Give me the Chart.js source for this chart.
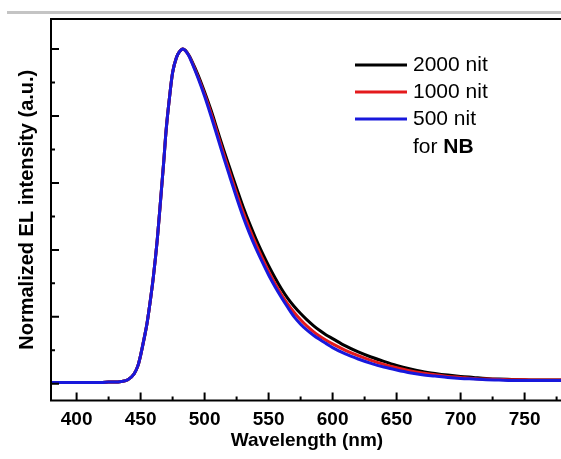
<!DOCTYPE html>
<html lang="en">
<head>
    <meta charset="UTF-8">
    <title>Normalized EL spectra</title>
    <script src="https://cdn.jsdelivr.net/npm/chart.js"></script>
    <style>
        html, body { margin: 0; padding: 0; background: #fff; overflow: hidden; }
        body { width: 561px; height: 459px; position: relative; }
        .rule { position: absolute; top: 11px; left: 7px; width: 554px; height: 3px; background: #c4c4c4; }
        canvas { position: absolute; left: 0; top: 0; }
    </style>
</head>
<body>
    <div class="rule"></div>
    <canvas id="elChart" width="580" height="459"></canvas>

    <script>
        // wavelength in nm
        const wavelengths = [380,385,390,395,400,405,410,415,420,425,430,435,440,
            445,448,450,453,455,458,460,463,465,468,470,473,475,478,480,483,485,488,490,
            495,500,505,510,515,520,525,530,535,540,545,550,555,560,565,570,575,580,585,590,595,
            600,610,620,630,640,650,660,670,680,690,700,710,720,730,740,750,760,770,780];

        const nit2000 = [0.004,0.004,0.004,0.004,0.004,0.004,0.004,0.004,0.004,0.005,0.005,0.007,0.012,
            0.03,0.055,0.085,0.14,0.18,0.26,0.32,0.43,0.52,0.66,0.76,0.87,0.93,0.975,0.99,1.0,0.996,0.98,0.965,
            0.922,0.872,0.818,0.758,0.698,0.641,0.584,0.53,0.48,0.434,0.392,0.353,0.317,0.284,0.255,0.231,0.21,0.191,0.174,0.159,0.146,
            0.135,0.113,0.095,0.08,0.067,0.055,0.045,0.037,0.031,0.026,0.022,0.019,0.016,0.014,0.013,0.012,0.011,0.011,0.011];

        const nit1000 = [0.004,0.004,0.004,0.004,0.004,0.004,0.004,0.004,0.004,0.005,0.005,0.007,0.012,
            0.03,0.055,0.085,0.14,0.18,0.26,0.32,0.43,0.52,0.66,0.76,0.87,0.93,0.975,0.99,1.0,0.995,0.979,0.962,
            0.916,0.865,0.809,0.748,0.686,0.627,0.569,0.514,0.464,0.418,0.376,0.336,0.3,0.267,0.238,0.213,0.191,0.172,0.156,0.142,0.13,
            0.119,0.1,0.084,0.07,0.058,0.048,0.039,0.032,0.027,0.022,0.019,0.016,0.014,0.013,0.012,0.012,0.011,0.011,0.011];

        const nit500 = [0.004,0.004,0.004,0.004,0.004,0.004,0.004,0.004,0.004,0.005,0.005,0.007,0.012,
            0.03,0.055,0.085,0.14,0.18,0.26,0.32,0.43,0.52,0.66,0.76,0.87,0.93,0.975,0.99,1.0,0.995,0.978,0.96,
            0.912,0.859,0.8,0.738,0.675,0.615,0.556,0.5,0.45,0.405,0.364,0.325,0.29,0.258,0.228,0.2,0.178,0.16,0.145,0.132,0.12,
            0.108,0.089,0.074,0.061,0.05,0.041,0.033,0.027,0.023,0.019,0.016,0.014,0.012,0.011,0.01,0.01,0.01,0.01,0.01];

        const seriesLabels = ['2000 nit', '1000 nit', '500 nit'];
        const xTickLabels = [400, 450, 500, 550, 600, 650, 700, 750];

        const FONT = '"Liberation Sans", Arial, sans-serif';
        const colors = ['#000000', '#e41a1c', '#1818dc'];
        const series = [nit2000, nit1000, nit500];

        const toPoints = arr => wavelengths.map((w, i) => ({ x: w, y: arr[i] }));

        // frame, inward ticks and the legend box
        const decor = {
            id: 'decor',
            afterDraw(chart) {
                const ctx = chart.ctx;
                const a = chart.chartArea;
                const xs = chart.scales.x, ys = chart.scales.y;
                ctx.save();
                ctx.strokeStyle = '#000';
                ctx.lineWidth = 2;
                ctx.strokeRect(a.left, a.top, a.right - a.left, a.bottom - a.top);

                ctx.beginPath();
                for (let v = 400; v <= 775; v += 25) {
                    const px = xs.getPixelForValue(v);
                    const len = v % 50 === 0 ? 8 : 4;
                    ctx.moveTo(px, a.bottom);
                    ctx.lineTo(px, a.bottom - len);
                }
                for (let k = 0; k <= 10; k++) {
                    const py = ys.getPixelForValue(k / 10);
                    const len = k % 2 === 0 ? 8 : 4;
                    ctx.moveTo(a.left, py);
                    ctx.lineTo(a.left + len, py);
                }
                ctx.stroke();

                // legend
                ctx.lineWidth = 3;
                ctx.textBaseline = 'middle';
                ctx.font = '21px ' + FONT;
                const rows = [65, 92, 119];
                chart.data.datasets.forEach((ds, i) => {
                    ctx.strokeStyle = ds.borderColor;
                    ctx.beginPath();
                    ctx.moveTo(355, rows[i]);
                    ctx.lineTo(407, rows[i]);
                    ctx.stroke();
                    ctx.fillStyle = '#000';
                    ctx.fillText(ds.label, 413, rows[i]);
                });
                ctx.fillText('for ', 413, 147);
                const w = ctx.measureText('for ').width;
                ctx.font = 'bold 21px ' + FONT;
                ctx.fillText('NB', 413 + w, 147);
                ctx.restore();
            }
        };

        new Chart(document.getElementById('elChart'), {
            type: 'line',
            data: {
                datasets: series.map((arr, i) => ({
                    label: seriesLabels[i],
                    data: toPoints(arr),
                    borderColor: colors[i],
                    borderWidth: 3,
                    pointRadius: 0,
                    fill: false,
                    tension: 0.4,
                    cubicInterpolationMode: 'monotone',
                    order: 3 - i
                }))
            },
            options: {
                responsive: false,
                animation: false,
                devicePixelRatio: 1,
                layout: { padding: { left: 11, top: 19, right: 17, bottom: 3 } },
                plugins: { legend: { display: false }, tooltip: { enabled: false } },
                scales: {
                    x: {
                        type: 'linear',
                        min: 380,
                        max: 780,
                        grid: { display: false, drawTicks: false },
                        border: { display: false },
                        afterFit: s => { s.height = 55.5; },
                        afterBuildTicks: s => { s.ticks = xTickLabels.map(v => ({ value: v })); },
                        ticks: {
                            autoSkip: false,
                            maxRotation: 0,
                            padding: 8,
                            color: '#000',
                            font: { family: FONT, size: 19, weight: 'bold' }
                        },
                        title: {
                            display: true,
                            text: 'Wavelength (nm)',
                            color: '#000',
                            font: { family: FONT, size: 19, weight: 'bold' }
                        }
                    },
                    y: {
                        min: -0.05,
                        max: 1.09,
                        grid: { display: false, drawTicks: false },
                        border: { display: false },
                        ticks: { display: false },
                        afterFit: s => { s.width = 40; },
                        title: {
                            display: true,
                            text: 'Normalized EL intensity (a.u.)',
                            color: '#000',
                            font: { family: FONT, size: 20, weight: 'bold' }
                        }
                    }
                }
            },
            plugins: [decor]
        });
    </script>
</body>
</html>
